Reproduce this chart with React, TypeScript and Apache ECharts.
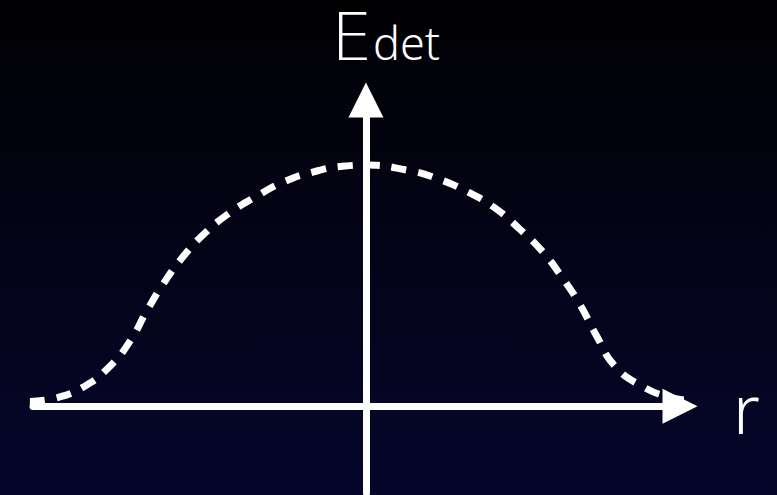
import React, { useEffect, useRef } from "react";
import * as echarts from "echarts";

// Radial position (normalised) and detected energy of the dashed profile
const rValues = [
  -1.07, -0.99, -0.895, -0.815, -0.751, -0.7, -0.646, -0.586, -0.519, -0.439,
  -0.353, -0.264, -0.169, -0.067, 0, 0.131, 0.232, 0.325, 0.411, 0.49, 0.564,
  0.624, 0.681, 0.735, 0.793, 0.879, 0.968, 1.048,
];
const energyValues = [
  0.02, 0.033, 0.083, 0.166, 0.27, 0.39, 0.506, 0.614, 0.71, 0.797, 0.867,
  0.929, 0.971, 0.996, 1.0, 0.979, 0.942, 0.888, 0.822, 0.734, 0.639, 0.535,
  0.423, 0.29, 0.166, 0.083, 0.037, 0.022,
];

const xRange = [-1.06, 1.0];
const yRange = [-0.36, 1.27];

const FONT = "'Noto Sans', 'DejaVu Sans', sans-serif";
const CAPITAL = "'DejaVu Sans', sans-serif";

export default function App() {
  const ref = useRef<HTMLDivElement>(null);

  useEffect(() => {
    if (!ref.current) return;
    const chart = echarts.init(ref.current, undefined, { renderer: "svg" });

    const axisCommon = {
      type: "value" as const,
      axisLine: {
        show: true,
        onZero: true,
        symbol: ["none", "triangle"],
        symbolSize: [35, 35],
        lineStyle: { color: "#ffffff", width: 7 },
      },
      axisTick: { show: false },
      axisLabel: { show: false },
      splitLine: { show: false },
    };

    const label = (
      text: string,
      x: number,
      y: number,
      font: string
    ) => ({
      type: "text",
      style: {
        text,
        x,
        y,
        align: "left",
        verticalAlign: "middle",
        fill: "#ffffff",
        font,
      },
    });

    chart.setOption({
      animation: false,
      backgroundColor: {
        type: "linear",
        x: 0,
        y: 0,
        x2: 0,
        y2: 1,
        colorStops: [
          { offset: 0, color: "#010103" },
          { offset: 1, color: "#06062c" },
        ],
      },
      grid: { left: 33, right: 97, top: 100, bottom: 2 },
      xAxis: { ...axisCommon, min: xRange[0], max: xRange[1] },
      yAxis: { ...axisCommon, min: yRange[0], max: yRange[1] },
      series: [
        {
          type: "line",
          data: rValues.map((r, i) => [r, energyValues[i]]),
          smooth: true,
          showSymbol: false,
          clip: false,
          z: 1,
          lineStyle: { color: "#ffffff", width: 7, type: [15, 12], cap: "butt" },
        },
      ],
      graphic: [
        label("E", 331, 37, `200 66px ${CAPITAL}`),
        label("det", 373, 42, `300 45px ${FONT}`),
        label("r", 733, 407, `300 68px ${FONT}`),
      ],
    });

    return () => chart.dispose();
  }, []);

  return (
    <div
      ref={ref}
      style={{ position: "fixed", left: 0, top: 0, width: 777, height: 495 }}
    />
  );
}
